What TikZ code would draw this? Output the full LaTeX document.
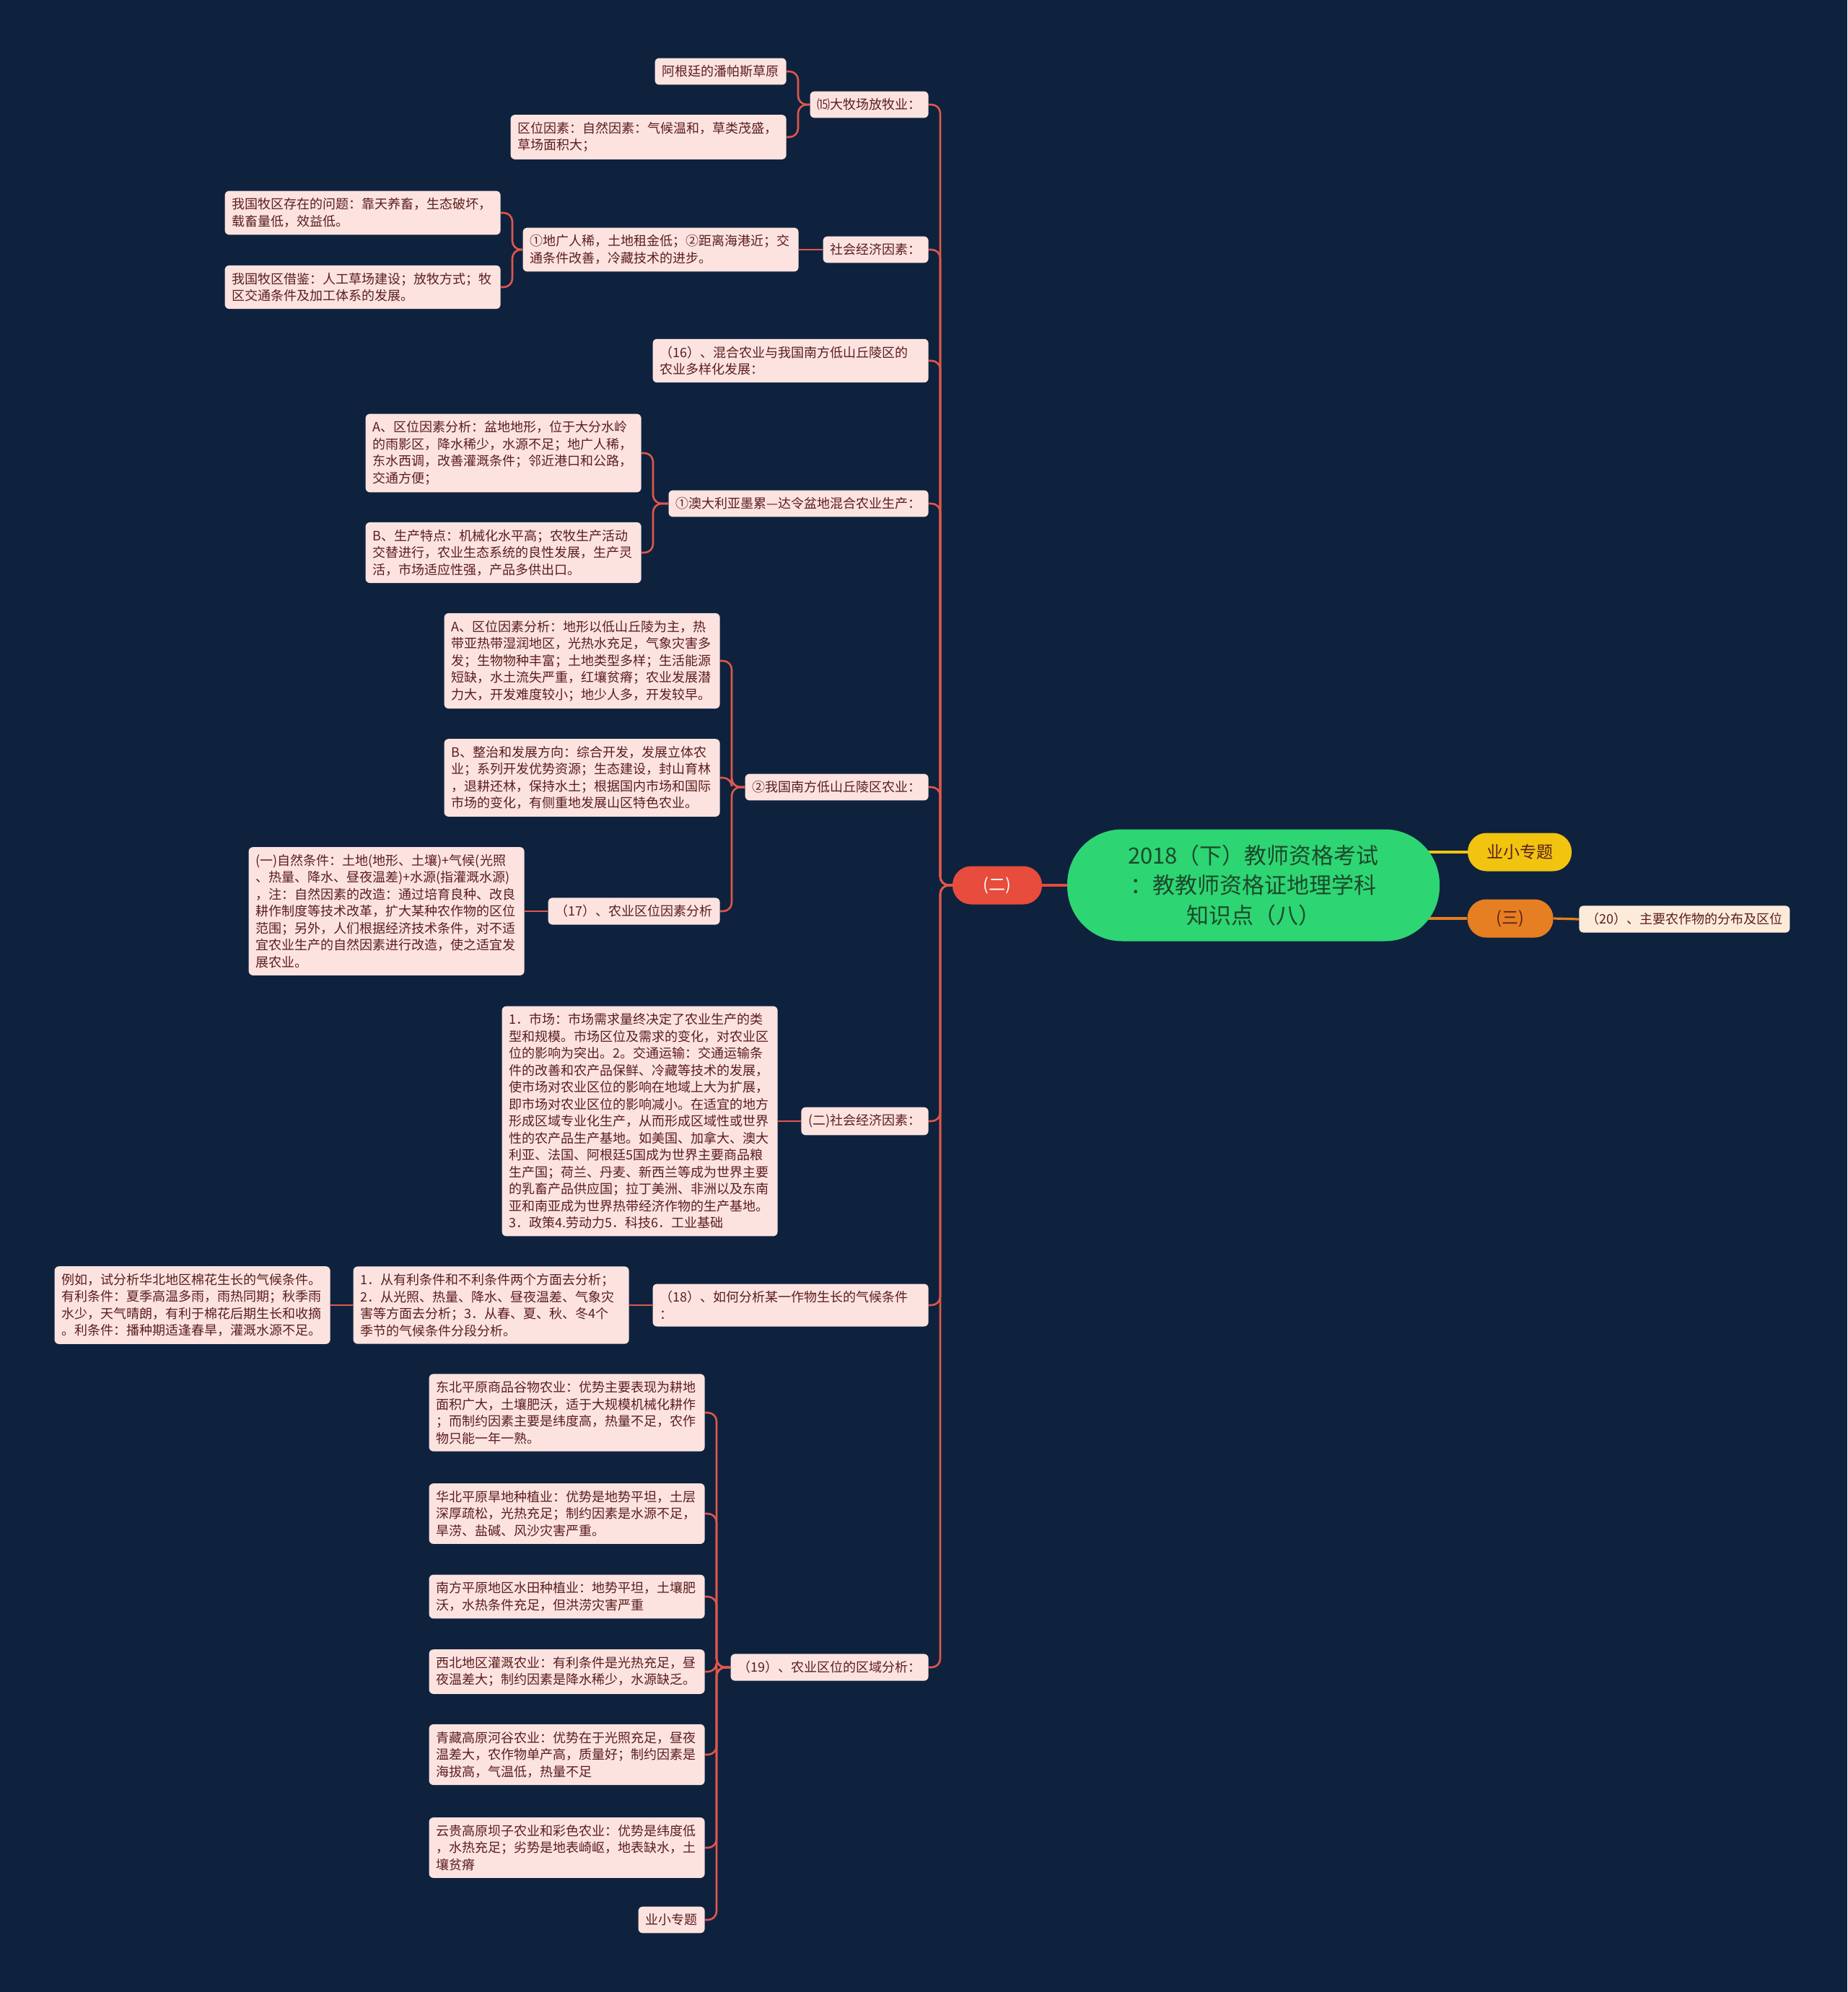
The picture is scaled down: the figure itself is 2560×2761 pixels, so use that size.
\documentclass[tikz,border=0pt]{standalone}
\usepackage{fontspec}
\setmainfont{Noto Sans CJK SC}
\pgfdeclarelayer{bg}
\pgfdeclarelayer{edges}
\pgfsetlayers{bg,edges,main}
\definecolor{bgnavy}{HTML}{0E223E}
\definecolor{leafpink}{HTML}{FCE3E0}
\definecolor{leaftext}{HTML}{5B1E1E}
\definecolor{linkred}{HTML}{E0574B}
\definecolor{rootgreen}{HTML}{2ED573}
\definecolor{roottext}{HTML}{1B4A2B}
\definecolor{redbub}{HTML}{E74C3C}
\definecolor{yelbub}{HTML}{F1C40F}
\definecolor{orabub}{HTML}{E67E22}
\definecolor{creamleaf}{HTML}{FDEBD9}

\begin{document}
\begin{tikzpicture}[x=0.5pt,y=-0.5pt,
  leaf/.style={fill=leafpink,text=leaftext,rounded corners=3pt,inner xsep=5pt,inner ysep=5pt,
    font=\fontsize{9pt}{11.75pt}\selectfont,align=left,anchor=east},
  wide/.style={leaf,text width=181pt},
  link/.style={draw=linkred,line width=1.3pt,rounded corners=6pt},
  hub/.style={line width=1.6pt},
  bubble/.style={rounded corners=13pt,minimum height=26.5pt,inner xsep=4pt,
    font=\fontsize{11.5pt}{13pt}\selectfont}]
\useasboundingbox (0,0) rectangle (2560,2761);
\begin{pgfonlayer}{bg}
\fill[bgnavy] (0,0) rectangle (2560,2761);
\end{pgfonlayer}

% centre and right side
\node[fill=rootgreen,text=roottext,rounded corners=38pt,minimum width=258pt,minimum height=77.5pt,
  align=center,font=\fontsize{15.5pt}{20.7pt}\selectfont] (root) at (1737,1227)
  {2018（下）教师资格考试\\：教教师资格证地理学科\\知识点（八）};
\node[bubble,fill=redbub,text=white,minimum width=62pt] (er) at (1382,1227) {(二)};
\node[bubble,fill=yelbub,text=leaftext,minimum width=72pt] (yel) at (2106,1181) {业小专题};
\node[bubble,fill=orabub,text=leaftext,minimum width=59.5pt] (ora) at (2093,1273) {(三)};
\node[leaf,fill=creamleaf,anchor=west] (n20) at (2188,1274) {（20）、主要农作物的分布及区位};

% left side
\node[leaf] (n15) at (1287,145) {⒂大牧场放牧业：};
\node[leaf] (n15a) at (1090,99) {阿根廷的潘帕斯草原};
\node[wide] (n15b) at (1090,190) {区位因素：自然因素：气候温和，草类茂盛，\\草场面积大；};
\node[leaf] (soc) at (1287,346) {社会经济因素：};
\node[wide] (soca) at (1107,346) {①地广人稀，土地租金低；②距离海港近；交\\通条件改善，冷藏技术的进步。};
\node[wide] (socb) at (694,295) {我国牧区存在的问题：靠天养畜，生态破坏，\\载畜量低，效益低。};
\node[wide] (socc) at (694,398) {我国牧区借鉴：人工草场建设；放牧方式；牧\\区交通条件及加工体系的发展。};
\node[wide] (n16) at (1287,500) {（16）、混合农业与我国南方低山丘陵区的\\农业多样化发展：};
\node[leaf] (aus) at (1287,698) {①澳大利亚墨累—达令盆地混合农业生产：};
\node[wide] (ausa) at (889,628) {A、区位因素分析：盆地地形，位于大分水岭\\的雨影区，降水稀少，水源不足；地广人稀，\\东水西调，改善灌溉条件；邻近港口和公路，\\交通方便；};
\node[wide] (ausb) at (889,766) {B、生产特点：机械化水平高；农牧生产活动\\交替进行，农业生态系统的良性发展，生产灵\\活，市场适应性强，产品多供出口。};
\node[leaf] (south) at (1287,1091) {②我国南方低山丘陵区农业：};
\node[wide] (southa) at (998,916) {A、区位因素分析：地形以低山丘陵为主，热\\带亚热带湿润地区，光热水充足，气象灾害多\\发；生物物种丰富；土地类型多样；生活能源\\短缺，水土流失严重，红壤贫瘠；农业发展潜\\力大，开发难度较小；地少人多，开发较早。};
\node[wide] (southb) at (998,1078) {B、整治和发展方向：综合开发，发展立体农\\业；系列开发优势资源；生态建设，封山育林\\，退耕还林，保持水土；根据国内市场和国际\\市场的变化，有侧重地发展山区特色农业。};
\node[leaf] (n17) at (998,1263) {（17）、农业区位因素分析};
\node[wide] (n17a) at (727,1263) {(一)自然条件：土地(地形、土壤)+气候(光照\\、热量、降水、昼夜温差)+水源(指灌溉水源)\\，注：自然因素的改造：通过培育良种、改良\\耕作制度等技术改革，扩大某种农作物的区位\\范围；另外，人们根据经济技术条件，对不适\\宜农业生产的自然因素进行改造，使之适宜发\\展农业。};
\node[leaf] (socii) at (1287,1554) {(二)社会经济因素：};
\node[wide] (sociia) at (1078,1554) {1．市场：市场需求量终决定了农业生产的类\\型和规模。市场区位及需求的变化，对农业区\\位的影响为突出。2。交通运输：交通运输条\\件的改善和农产品保鲜、冷藏等技术的发展，\\使市场对农业区位的影响在地域上大为扩展，\\即市场对农业区位的影响减小。在适宜的地方\\形成区域专业化生产，从而形成区域性或世界\\性的农产品生产基地。如美国、加拿大、澳大\\利亚、法国、阿根廷5国成为世界主要商品粮\\生产国；荷兰、丹麦、新西兰等成为世界主要\\的乳畜产品供应国；拉丁美洲、非洲以及东南\\亚和南亚成为世界热带经济作物的生产基地。\\3．政策4.劳动力5．科技6．工业基础};
\node[wide] (n18) at (1287,1809) {（18）、如何分析某一作物生长的气候条件\\：};
\node[wide] (n18a) at (872,1809) {1．从有利条件和不利条件两个方面去分析；\\2．从光照、热量、降水、昼夜温差、气象灾\\害等方面去分析；3．从春、夏、秋、冬4个\\季节的气候条件分段分析。};
\node[wide] (n18b) at (458,1809) {例如，试分析华北地区棉花生长的气候条件。\\有利条件：夏季高温多雨，雨热同期；秋季雨\\水少，天气晴朗，有利于棉花后期生长和收摘\\。利条件：播种期适逢春旱，灌溉水源不足。};
\node[leaf] (n19) at (1287,2311) {（19）、农业区位的区域分析：};
\node[wide] (n19a) at (977,1958) {东北平原商品谷物农业：优势主要表现为耕地\\面积广大，土壤肥沃，适于大规模机械化耕作\\；而制约因素主要是纬度高，热量不足，农作\\物只能一年一熟。};
\node[wide] (n19b) at (977,2098) {华北平原旱地种植业：优势是地势平坦，土层\\深厚疏松，光热充足；制约因素是水源不足，\\旱涝、盐碱、风沙灾害严重。};
\node[wide] (n19c) at (977,2213) {南方平原地区水田种植业：地势平坦，土壤肥\\沃，水热条件充足，但洪涝灾害严重};
\node[wide] (n19d) at (977,2317) {西北地区灌溉农业：有利条件是光热充足，昼\\夜温差大；制约因素是降水稀少，水源缺乏。};
\node[wide] (n19e) at (977,2432) {青藏高原河谷农业：优势在于光照充足，昼夜\\温差大，农作物单产高，质量好；制约因素是\\海拔高，气温低，热量不足};
\node[wide] (n19f) at (977,2561) {云贵高原坝子农业和彩色农业：优势是纬度低\\，水热充足；劣势是地表崎岖，地表缺水，土\\壤贫瘠};
\node[leaf] (n19g) at (977,2661) {业小专题};

\begin{pgfonlayer}{edges}
\draw[link,hub,draw=redbub] (root) -- (er);
\draw[link,hub,draw=yelbub] (root.center |- yel.west) -- (yel.west);
\draw[link,hub,draw=orabub] (root.center |- ora.west) -- (ora.west);
\draw[link,hub,draw=orabub] (ora.east) -- (n20.west);
% brackets
\foreach \p/\c in {er/n15,er/soc,er/n16,er/aus,er/south,er/socii,er/n18,er/n19,
  n15/n15a,n15/n15b,soca/socb,soca/socc,aus/ausa,aus/ausb,
  south/southa,south/southb,south/n17,
  n19/n19a,n19/n19b,n19/n19c,n19/n19d,n19/n19e,n19/n19f,n19/n19g}
  \draw[link] (\p.west) -| ([xshift=8pt]\c.east) -- (\c.east);
% single children
\foreach \p/\c in {soc/soca,n17/n17a,socii/sociia,n18/n18a,n18a/n18b}
  \draw[link] (\p.west) -- (\c.east);
\end{pgfonlayer}
\end{tikzpicture}
\end{document}
